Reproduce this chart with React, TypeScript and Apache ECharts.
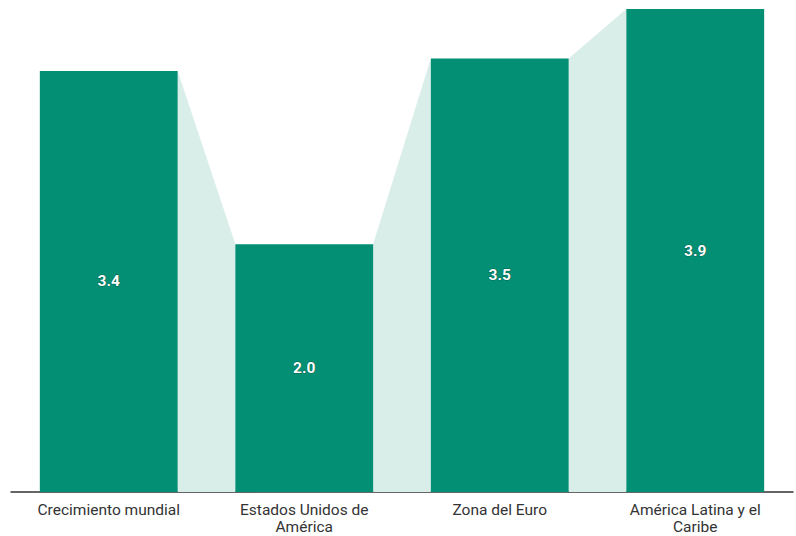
import React, { useEffect, useRef } from "react";
import * as echarts from "echarts";

const categories = ["Crecimiento mundial", "Estados Unidos de\nAmérica", "Zona del Euro", "América Latina y el\nCaribe"];
const values = [3.4, 2.0, 3.5, 3.9];

const BAR_RATIO = 0.705;

export default function App() {
  const ref = useRef<HTMLDivElement>(null);
  useEffect(() => {
    if (!ref.current) return;
    const chart = echarts.init(ref.current, null, { renderer: "svg" });
    const connectors = values.slice(0, -1).map((v, i) => [i, v, values[i + 1]]);
    chart.setOption({
      animation: false,
      grid: { left: 11, right: 3, top: 9, bottom: 44, containLabel: false, outerBoundsMode: "none" },
      xAxis: {
        type: "category",
        data: categories,
        axisLine: { lineStyle: { color: "#333", width: 1.5 } },
        axisTick: { show: false },
        axisLabel: { color: "#333", fontFamily: "Roboto", fontSize: 15.5, lineHeight: 17, margin: 9, interval: 0 },
      },
      yAxis: { type: "value", min: 0, max: 3.9, show: false, splitLine: { show: false } },
      series: [
        {
          type: "custom",
          z: 1,
          data: connectors,
          renderItem: (params: any, api: any) => {
            const i = api.value(0);
            const v1 = api.value(1);
            const v2 = api.value(2);
            const band = api.size([1, 0])[0];
            const half = (band * BAR_RATIO) / 2;
            const p1 = api.coord([i, v1]);
            const p2 = api.coord([i + 1, v2]);
            const b1 = api.coord([i, 0]);
            const b2 = api.coord([i + 1, 0]);
            return {
              type: "polygon",
              shape: {
                points: [
                  [p1[0] + half, p1[1]],
                  [p2[0] - half, p2[1]],
                  [b2[0] - half, b2[1]],
                  [b1[0] + half, b1[1]],
                ],
              },
              style: { fill: "#d9ede9" },
            };
          },
        },
        {
          type: "bar",
          z: 2,
          data: values,
          barWidth: "70.5%",
          itemStyle: { color: "#038f74" },
          label: {
            show: true,
            position: "inside",
            formatter: (p: any) => p.value.toFixed(1),
            color: "#fff",
            fontFamily: "Roboto",
            fontWeight: "bold",
            fontSize: 15.5,
            textBorderColor: "rgba(0,60,45,0.6)",
            textBorderWidth: 1,
          },
        },
      ],
    });
    return () => chart.dispose();
  }, []);
  return <div ref={ref} style={{ width: 796, height: 536, position: "absolute", left: 0, top: 0 }} />;
}
